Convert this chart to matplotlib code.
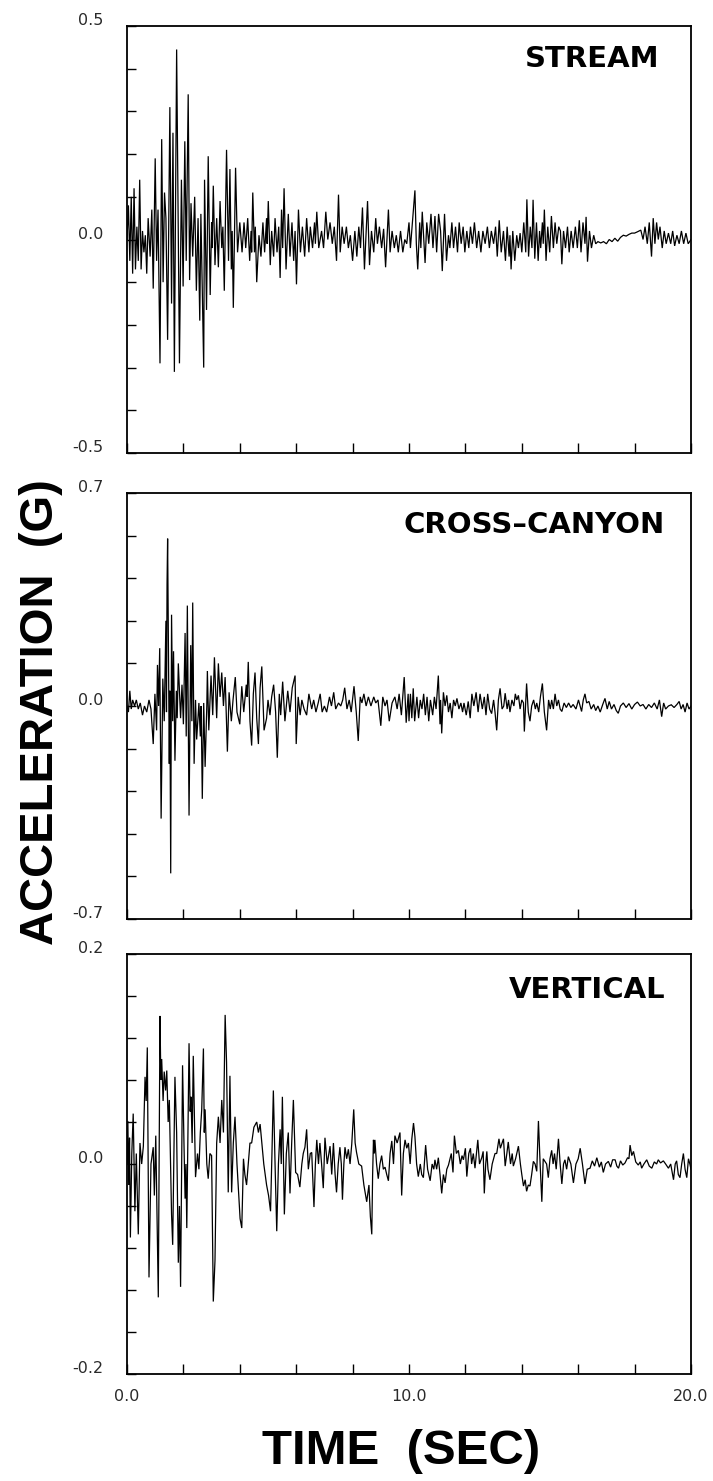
import matplotlib
matplotlib.use("Agg")
import matplotlib.pyplot as plt
import matplotlib.transforms as mtransforms
import numpy as np

# Accelerograph record, three components.
# Each entry: (time in s, acceleration in g) at successive peaks and troughs.
stream = [
    (0.00, 0.00), (0.05, 0.08), (0.10, -0.05), (0.15, 0.10), (0.20, -0.08),
    (0.25, 0.12), (0.30, -0.07), (0.35, 0.03), (0.40, -0.05), (0.45, 0.14),
    (0.50, -0.07), (0.55, 0.02), (0.60, -0.03), (0.65, 0.01), (0.70, -0.08),
    (0.75, 0.05), (0.82, -0.04), (0.88, 0.07), (0.93, -0.115), (1.00, 0.19),
    (1.05, -0.05), (1.10, 0.07), (1.17, -0.29), (1.23, 0.235), (1.28, -0.10),
    (1.33, 0.11), (1.38, 0.05), (1.44, -0.235), (1.52, 0.31), (1.58, -0.15),
    (1.63, 0.25), (1.68, -0.31), (1.76, 0.445), (1.86, -0.29), (1.93, 0.14),
    (1.99, -0.11), (2.05, 0.23), (2.10, -0.05), (2.17, 0.34), (2.22, -0.095),
    (2.27, 0.085), (2.33, -0.04), (2.40, 0.10), (2.46, -0.12), (2.52, 0.05),
    (2.58, -0.19), (2.62, 0.06), (2.72, -0.30), (2.75, 0.14), (2.82, -0.165),
    (2.88, 0.195), (2.95, -0.13), (3.00, 0.04), (3.02, -0.02), (3.06, 0.126),
    (3.12, -0.06), (3.18, 0.05), (3.24, -0.065), (3.30, 0.09), (3.36, -0.02),
    (3.40, 0.03), (3.45, -0.12), (3.53, 0.21), (3.60, -0.05), (3.65, 0.165),
    (3.70, -0.07), (3.73, 0.02), (3.77, -0.16), (3.85, 0.168), (3.92, -0.03),
    (4.00, 0.04), (4.08, -0.03), (4.15, 0.04), (4.21, -0.02), (4.28, 0.05),
    (4.35, -0.05), (4.40, 0.02), (4.42, -0.03), (4.46, 0.11), (4.52, -0.03),
    (4.55, 0.03), (4.60, -0.10), (4.68, 0.01), (4.75, -0.04), (4.82, 0.04),
    (4.88, -0.03), (4.95, 0.05), (4.97, -0.01), (5.01, 0.09), (5.08, -0.06),
    (5.13, 0.02), (5.20, -0.04), (5.25, 0.05), (5.32, -0.03), (5.38, 0.03),
    (5.43, -0.09), (5.48, 0.07), (5.52, -0.02), (5.57, 0.12), (5.64, -0.07),
    (5.72, 0.06), (5.78, -0.04), (5.85, 0.04), (5.91, -0.05), (5.96, 0.02),
    (6.01, -0.105), (6.08, 0.07), (6.15, -0.03), (6.22, 0.03), (6.30, -0.04),
    (6.37, 0.05), (6.45, -0.03), (6.50, 0.03), (6.58, -0.02), (6.65, 0.04),
    (6.68, -0.01), (6.73, 0.065), (6.80, -0.02), (6.90, 0.02), (6.97, -0.02),
    (7.05, 0.065), (7.12, 0.00), (7.20, 0.04), (7.28, -0.01), (7.35, 0.03),
    (7.43, -0.05), (7.50, 0.105), (7.56, -0.03), (7.63, 0.03), (7.70, -0.01),
    (7.78, 0.03), (7.85, -0.02), (7.92, 0.01), (8.00, -0.05), (8.08, 0.02),
    (8.15, -0.04), (8.22, 0.03), (8.28, -0.02), (8.35, 0.075), (8.42, -0.07),
    (8.53, 0.09), (8.60, -0.06), (8.67, 0.02), (8.75, -0.03), (8.82, 0.05),
    (8.88, -0.01), (8.95, 0.03), (9.03, -0.02), (9.10, 0.025), (9.17, -0.065),
    (9.27, 0.07), (9.33, -0.03), (9.40, 0.02), (9.48, -0.02), (9.55, 0.01),
    (9.62, -0.03), (9.70, 0.02), (9.78, -0.03), (9.85, 0.00), (9.92, -0.01),
    (10.00, 0.04), (10.05, -0.02), (10.21, 0.115), (10.26, -0.01), (10.31, -0.07),
    (10.38, 0.04), (10.42, -0.02), (10.47, 0.065), (10.57, -0.055), (10.63, 0.04),
    (10.70, -0.01), (10.78, 0.06), (10.85, -0.02), (10.92, 0.055), (10.98, -0.03),
    (11.05, 0.06), (11.12, 0.02), (11.18, -0.074), (11.26, 0.06), (11.33, -0.05),
    (11.40, 0.01), (11.45, -0.02), (11.52, 0.04), (11.58, -0.02), (11.65, 0.03),
    (11.72, -0.03), (11.78, 0.04), (11.85, -0.01), (11.92, 0.03), (11.98, -0.03),
    (12.05, 0.02), (12.12, -0.02), (12.18, 0.03), (12.25, -0.01), (12.32, 0.04),
    (12.40, -0.02), (12.47, 0.02), (12.55, -0.03), (12.62, 0.02), (12.70, -0.01),
    (12.78, 0.03), (12.85, -0.02), (12.92, 0.02), (13.00, -0.01), (13.07, 0.03),
    (13.13, -0.04), (13.20, 0.045), (13.27, -0.03), (13.35, 0.02), (13.42, -0.05),
    (13.48, 0.03), (13.55, -0.04), (13.58, 0.01), (13.62, -0.07), (13.68, 0.02),
    (13.75, -0.05), (13.82, 0.01), (13.88, -0.02), (13.94, 0.015), (14.00, -0.03),
    (14.07, 0.04), (14.14, -0.03), (14.18, 0.094), (14.24, -0.04), (14.30, 0.03),
    (14.36, -0.02), (14.40, 0.093), (14.46, -0.045), (14.52, 0.04), (14.58, -0.05),
    (14.63, 0.02), (14.67, -0.02), (14.73, 0.04), (14.76, -0.01), (14.80, 0.07),
    (14.86, -0.05), (14.92, 0.03), (14.99, -0.03), (15.05, 0.055), (15.12, -0.02),
    (15.18, 0.04), (15.24, -0.01), (15.31, 0.03), (15.37, 0.02), (15.42, -0.058),
    (15.48, 0.02), (15.55, -0.02), (15.62, 0.03), (15.68, -0.03), (15.75, 0.02),
    (15.82, -0.02), (15.90, 0.03), (15.97, -0.02), (16.04, 0.045), (16.10, -0.03),
    (16.17, 0.04), (16.24, -0.01), (16.28, 0.053), (16.33, -0.052), (16.40, 0.02),
    (16.47, -0.02), (16.55, 0.01), (16.62, -0.01), (16.70, -0.005), (16.80, -0.008),
    (16.90, -0.005), (17.00, -0.01), (17.10, 0.00), (17.20, -0.005), (17.30, 0.003),
    (17.40, -0.004), (17.50, 0.005), (17.60, 0.01), (17.70, 0.008), (17.80, 0.012),
    (17.90, 0.015), (18.00, 0.015), (18.10, 0.018), (18.22, 0.022), (18.30, 0.00),
    (18.37, 0.03), (18.45, -0.01), (18.52, 0.04), (18.60, -0.04), (18.66, 0.05),
    (18.72, -0.01), (18.78, 0.04), (18.84, 0.00), (18.90, 0.03), (18.98, -0.02),
    (19.05, 0.02), (19.12, -0.01), (19.20, 0.015), (19.28, -0.01), (19.35, 0.02),
    (19.42, -0.015), (19.50, 0.01), (19.58, -0.01), (19.66, 0.02), (19.74, -0.01),
    (19.82, 0.015), (19.90, -0.01), (20.00, 0.00),
]

cross_canyon = [
    (0.00, 0.00), (0.05, -0.02), (0.10, 0.05), (0.15, -0.01), (0.20, 0.02),
    (0.27, 0.00), (0.33, 0.02), (0.40, -0.01), (0.47, 0.01), (0.55, -0.03),
    (0.62, 0.00), (0.70, -0.02), (0.78, 0.02), (0.85, -0.01), (0.93, -0.125),
    (0.99, 0.04), (1.05, -0.08), (1.08, 0.135), (1.12, 0.00), (1.16, 0.19),
    (1.21, -0.37), (1.27, 0.09), (1.32, -0.05), (1.38, 0.28), (1.40, -0.02),
    (1.42, 0.40), (1.44, 0.55), (1.50, -0.19), (1.52, 0.05), (1.55, -0.55),
    (1.58, 0.30), (1.62, -0.05), (1.65, 0.18), (1.70, -0.18), (1.75, 0.05),
    (1.78, -0.04), (1.82, 0.14), (1.90, -0.04), (1.95, 0.07), (2.00, -0.06),
    (2.06, 0.24), (2.10, -0.10), (2.14, 0.33), (2.20, -0.36), (2.26, 0.20),
    (2.30, -0.05), (2.33, 0.34), (2.38, -0.19), (2.43, 0.02), (2.47, -0.11),
    (2.55, 0.01), (2.60, -0.10), (2.63, 0.00), (2.67, -0.305), (2.72, 0.01),
    (2.77, -0.20), (2.83, 0.00), (2.85, 0.115), (2.90, -0.08), (2.98, 0.10),
    (3.04, -0.03), (3.10, 0.16), (3.18, -0.04), (3.24, 0.14), (3.30, 0.03),
    (3.36, 0.11), (3.42, 0.00), (3.48, 0.095), (3.56, -0.15), (3.62, 0.045),
    (3.70, -0.05), (3.76, 0.02), (3.84, 0.095), (3.90, -0.02), (4.00, -0.06),
    (4.07, 0.065), (4.14, -0.02), (4.23, 0.07), (4.26, 0.03), (4.30, 0.145),
    (4.36, -0.05), (4.42, -0.13), (4.48, 0.04), (4.54, 0.11), (4.60, -0.04),
    (4.66, -0.125), (4.72, 0.06), (4.78, 0.13), (4.86, -0.08), (4.95, -0.04),
    (5.00, 0.02), (5.07, -0.03), (5.13, 0.03), (5.20, 0.07), (5.27, -0.02),
    (5.33, -0.17), (5.40, 0.04), (5.45, -0.03), (5.52, 0.08), (5.60, -0.05),
    (5.70, 0.05), (5.78, -0.02), (5.86, 0.06), (5.96, 0.10), (6.00, -0.125),
    (6.07, 0.03), (6.14, -0.03), (6.20, 0.02), (6.28, -0.01), (6.37, -0.03),
    (6.45, 0.04), (6.55, -0.01), (6.62, 0.02), (6.70, -0.02), (6.78, 0.01),
    (6.85, 0.04), (6.92, -0.02), (7.00, 0.00), (7.08, -0.02), (7.18, 0.03),
    (7.25, 0.00), (7.33, 0.045), (7.40, -0.01), (7.50, 0.01), (7.58, 0.00),
    (7.65, 0.02), (7.72, 0.06), (7.80, -0.01), (7.88, 0.02), (7.95, -0.02),
    (8.05, 0.065), (8.13, -0.02), (8.20, -0.115), (8.27, 0.03), (8.33, 0.01),
    (8.40, 0.04), (8.48, 0.00), (8.56, 0.03), (8.65, 0.00), (8.75, 0.03),
    (8.82, 0.01), (8.90, 0.02), (9.00, -0.065), (9.07, 0.03), (9.15, 0.00),
    (9.22, 0.02), (9.30, -0.05), (9.40, 0.01), (9.50, 0.03), (9.58, -0.01),
    (9.65, 0.04), (9.73, -0.03), (9.83, 0.095), (9.90, -0.055), (9.97, 0.04),
    (10.00, -0.05), (10.05, 0.04), (10.10, -0.04), (10.15, 0.058), (10.20, -0.05),
    (10.28, 0.03), (10.34, -0.04), (10.40, 0.02), (10.46, -0.01), (10.52, 0.04),
    (10.58, -0.03), (10.64, 0.03), (10.70, -0.05), (10.76, 0.02), (10.84, -0.03),
    (10.90, 0.03), (10.96, -0.01), (11.04, 0.10), (11.10, -0.06), (11.12, 0.02),
    (11.16, -0.09), (11.22, 0.045), (11.28, 0.00), (11.34, 0.035), (11.40, -0.02),
    (11.46, 0.01), (11.52, -0.04), (11.58, 0.02), (11.64, 0.00), (11.70, 0.025),
    (11.77, -0.01), (11.84, 0.01), (11.90, -0.02), (11.95, 0.01), (12.03, -0.03),
    (12.10, 0.015), (12.17, -0.04), (12.23, 0.04), (12.30, 0.00), (12.38, 0.045),
    (12.45, -0.02), (12.52, 0.04), (12.60, -0.01), (12.67, 0.03), (12.73, -0.03),
    (12.79, 0.04), (12.86, -0.01), (12.93, -0.025), (13.00, 0.02), (13.05, -0.02),
    (13.11, -0.08), (13.17, 0.02), (13.23, 0.058), (13.30, -0.01), (13.36, 0.00),
    (13.41, 0.042), (13.48, -0.01), (13.53, 0.02), (13.58, -0.02), (13.65, 0.02),
    (13.72, 0.00), (13.77, 0.04), (13.82, 0.02), (13.88, 0.035), (13.94, -0.01),
    (14.00, 0.02), (14.06, 0.01), (14.09, -0.084), (14.17, 0.074), (14.23, -0.02),
    (14.29, -0.05), (14.35, 0.00), (14.42, 0.02), (14.48, -0.01), (14.53, 0.01),
    (14.60, -0.02), (14.66, 0.03), (14.73, 0.074), (14.80, -0.02), (14.88, -0.08),
    (14.95, 0.02), (15.01, -0.01), (15.06, 0.02), (15.12, -0.01), (15.18, 0.04),
    (15.24, 0.00), (15.30, 0.02), (15.36, -0.01), (15.42, -0.018), (15.50, 0.01),
    (15.58, -0.005), (15.66, 0.01), (15.74, -0.005), (15.82, 0.005), (15.92, -0.01),
    (16.01, 0.02), (16.07, 0.00), (16.12, -0.018), (16.18, 0.02), (16.24, 0.04),
    (16.30, 0.01), (16.38, 0.015), (16.46, -0.01), (16.55, 0.005), (16.62, -0.015),
    (16.70, 0.00), (16.78, -0.02), (16.87, 0.005), (16.95, 0.025), (17.03, -0.01),
    (17.10, 0.015), (17.18, -0.01), (17.27, 0.005), (17.35, -0.015), (17.42, -0.024),
    (17.50, 0.00), (17.60, 0.01), (17.70, -0.005), (17.80, 0.008), (17.90, -0.01),
    (18.00, 0.005), (18.10, 0.013), (18.20, 0.00), (18.30, 0.005), (18.40, -0.01),
    (18.50, 0.005), (18.60, -0.005), (18.70, 0.01), (18.80, -0.01), (18.88, 0.02),
    (18.96, -0.035), (19.03, 0.01), (19.10, -0.01), (19.20, 0.00), (19.30, 0.004),
    (19.40, -0.005), (19.50, 0.005), (19.58, 0.015), (19.65, -0.01), (19.72, 0.005),
    (19.79, -0.02), (19.86, 0.01), (19.93, -0.01), (20.00, 0.00),
]

vertical = [
    (0.00, 0.000), (0.03, 0.041), (0.06, -0.020), (0.09, 0.025), (0.12, -0.070),
    (0.17, 0.010), (0.22, 0.048), (0.28, -0.045), (0.33, 0.010), (0.40, -0.067),
    (0.46, 0.020), (0.52, 0.000), (0.58, 0.017), (0.64, 0.083), (0.68, 0.060),
    (0.72, 0.111), (0.78, -0.108), (0.85, 0.000), (0.93, 0.016), (0.97, -0.030),
    (1.02, 0.027), (1.11, -0.127), (1.17, 0.141), (1.20, 0.080), (1.23, 0.100),
    (1.28, 0.060), (1.32, 0.088), (1.37, 0.070), (1.41, 0.089), (1.46, 0.040),
    (1.50, 0.061), (1.58, -0.048), (1.62, -0.077), (1.66, 0.000), (1.70, 0.083),
    (1.76, 0.030), (1.82, -0.094), (1.86, -0.040), (1.90, -0.117), (1.97, 0.094),
    (2.02, 0.020), (2.06, -0.033), (2.09, 0.000), (2.12, -0.061), (2.20, 0.115),
    (2.24, 0.050), (2.27, 0.064), (2.31, 0.020), (2.35, 0.103), (2.43, -0.0125),
    (2.50, 0.010), (2.55, -0.005), (2.60, 0.030), (2.65, 0.052), (2.71, 0.110),
    (2.74, 0.030), (2.77, 0.052), (2.83, 0.000), (2.88, -0.014), (2.94, 0.010),
    (3.00, 0.008), (3.06, -0.131), (3.12, -0.092), (3.18, 0.020), (3.24, 0.045),
    (3.30, 0.020), (3.36, 0.061), (3.42, 0.030), (3.48, 0.142), (3.53, 0.097),
    (3.59, -0.027), (3.65, 0.084), (3.71, -0.027), (3.77, 0.020), (3.83, 0.045),
    (3.90, 0.000), (4.01, -0.052), (4.07, -0.061), (4.13, 0.005), (4.18, -0.010),
    (4.24, -0.020), (4.30, 0.000), (4.36, 0.020), (4.42, 0.020), (4.50, 0.035),
    (4.60, 0.040), (4.66, 0.030), (4.72, 0.038), (4.78, 0.020), (4.85, 0.000),
    (4.95, -0.020), (5.02, -0.030), (5.09, -0.045), (5.14, 0.010), (5.19, 0.070),
    (5.25, 0.000), (5.31, -0.064), (5.37, 0.000), (5.43, 0.033), (5.47, 0.000),
    (5.51, 0.064), (5.58, -0.048), (5.65, 0.010), (5.72, 0.030), (5.78, -0.028),
    (5.84, 0.020), (5.90, 0.061), (5.98, -0.008), (6.05, -0.010), (6.13, -0.022),
    (6.20, 0.000), (6.25, 0.010), (6.31, 0.016), (6.37, 0.033), (6.43, -0.005),
    (6.50, 0.010), (6.55, 0.011), (6.63, -0.041), (6.68, 0.000), (6.73, 0.023),
    (6.79, 0.000), (6.84, 0.020), (6.90, 0.000), (6.96, -0.023), (7.02, 0.025),
    (7.10, 0.000), (7.20, 0.017), (7.26, -0.010), (7.32, 0.020), (7.38, -0.010),
    (7.43, -0.027), (7.49, 0.000), (7.55, 0.016), (7.60, 0.000), (7.64, -0.034),
    (7.69, 0.000), (7.73, 0.016), (7.79, 0.005), (7.85, 0.014), (7.91, 0.000),
    (7.97, 0.019), (8.04, 0.052), (8.09, 0.020), (8.14, 0.011), (8.22, 0.000),
    (8.32, -0.002), (8.40, -0.020), (8.50, -0.036), (8.58, -0.020), (8.63, -0.050),
    (8.68, -0.067), (8.71, -0.010), (8.74, 0.023), (8.77, 0.010), (8.79, 0.023),
    (8.85, 0.000), (8.91, -0.014), (8.97, 0.000), (9.03, 0.008), (9.09, -0.005),
    (9.15, -0.003), (9.21, -0.010), (9.27, -0.016), (9.33, 0.010), (9.39, 0.022),
    (9.45, 0.000), (9.50, 0.027), (9.58, 0.020), (9.68, 0.030), (9.74, -0.030),
    (9.80, 0.010), (9.86, 0.023), (9.92, 0.015), (9.98, 0.020), (10.04, 0.000),
    (10.10, 0.024), (10.16, 0.039), (10.21, 0.026), (10.27, 0.000), (10.33, -0.012),
    (10.40, 0.000), (10.45, -0.010), (10.51, -0.013), (10.59, 0.018), (10.66, -0.005),
    (10.75, -0.016), (10.82, 0.000), (10.88, -0.005), (10.92, 0.004), (10.98, -0.005),
    (11.04, 0.006), (11.10, -0.010), (11.16, -0.028), (11.22, -0.010), (11.28, -0.018),
    (11.34, -0.005), (11.40, -0.001), (11.50, 0.010), (11.56, -0.008), (11.61, 0.027),
    (11.68, 0.010), (11.75, 0.013), (11.82, 0.000), (11.88, 0.008), (11.93, 0.004),
    (12.00, 0.015), (12.05, -0.012), (12.12, 0.010), (12.18, 0.015), (12.22, 0.000),
    (12.28, 0.010), (12.34, -0.004), (12.44, 0.023), (12.50, 0.000), (12.58, 0.006),
    (12.63, 0.012), (12.67, -0.028), (12.72, 0.000), (12.76, 0.012), (12.80, -0.005),
    (12.87, -0.015), (12.95, 0.000), (13.05, 0.010), (13.11, 0.010), (13.19, 0.024),
    (13.24, 0.015), (13.30, 0.020), (13.35, 0.024), (13.41, -0.002), (13.47, 0.010),
    (13.52, 0.021), (13.60, 0.000), (13.66, 0.010), (13.70, -0.002), (13.78, 0.005),
    (13.88, 0.017), (13.95, 0.000), (14.00, -0.010), (14.06, -0.021), (14.12, -0.015),
    (14.17, -0.026), (14.23, -0.020), (14.29, -0.021), (14.35, -0.010), (14.41, 0.0025),
    (14.47, 0.000), (14.53, -0.007), (14.59, 0.041), (14.65, 0.000), (14.71, -0.036),
    (14.76, 0.005), (14.82, 0.0025), (14.88, 0.000), (14.94, -0.013), (15.00, 0.005),
    (15.06, 0.013), (15.11, 0.000), (15.16, 0.010), (15.22, -0.005), (15.30, 0.024),
    (15.36, 0.000), (15.42, -0.019), (15.48, 0.000), (15.53, 0.004), (15.59, -0.005),
    (15.65, 0.007), (15.74, 0.000), (15.83, -0.018), (15.92, 0.000), (16.00, 0.005),
    (16.07, 0.015), (16.15, 0.000), (16.24, -0.019), (16.32, -0.005), (16.42, -0.004),
    (16.50, 0.003), (16.58, -0.002), (16.66, 0.006), (16.75, -0.003), (16.82, 0.002),
    (16.89, -0.008), (16.97, 0.000), (17.07, 0.0025), (17.15, -0.003), (17.22, 0.004),
    (17.31, 0.004), (17.37, -0.002), (17.43, -0.004), (17.50, 0.003), (17.58, -0.001),
    (17.66, 0.001), (17.75, 0.006), (17.80, 0.005), (17.84, 0.018), (17.90, 0.008),
    (17.96, 0.012), (18.04, 0.002), (18.13, -0.001), (18.20, 0.002), (18.25, -0.004),
    (18.33, 0.000), (18.43, 0.004), (18.52, -0.002), (18.61, -0.004), (18.70, 0.002),
    (18.78, 0.000), (18.84, 0.004), (18.92, 0.001), (19.02, 0.003), (19.10, 0.000),
    (19.20, -0.004), (19.28, 0.000), (19.38, -0.015), (19.44, 0.000), (19.49, 0.003),
    (19.55, -0.010), (19.61, -0.013), (19.67, 0.000), (19.73, 0.010), (19.79, -0.005),
    (19.85, -0.013), (19.91, 0.005), (19.96, 0.000), (20.00, -0.005),
]

components = ["STREAM", "CROSS\u2013CANYON", "VERTICAL"]
y_limits = [0.5, 0.7, 0.2]
y_labels = [["0.5", "0.0", "-0.5"], ["0.7", "0.0", "-0.7"], ["0.2", "0.0", "-0.2"]]
x_tick_labels = ["0.0", "10.0", "20.0"]

W, H = 713, 1481
fig = plt.figure(figsize=(W / 100, H / 100), dpi=100)
fig.patch.set_facecolor("white")

left_px, right_px = 127, 691
panel_px = [(26, 453), (493, 919), (954, 1374)]
# name placement inside each panel (axes fraction: right edge, baseline)
name_pos = [(0.945, 0.904), (0.954, 0.906), (0.954, 0.895)]

axis_font = dict(family="Liberation Sans", weight="bold")
name_font = dict(family="DejaVu Sans", weight="bold", size=21)
num_font = dict(family="DejaVu Sans", size=11.5, color="#2a2a2a")

records = [stream, cross_canyon, vertical]
for i, (rec, name, lim, labs) in enumerate(zip(records, components, y_limits, y_labels)):
    top, bot = panel_px[i]
    ax = fig.add_axes([left_px / W, (H - bot) / H, (right_px - left_px) / W, (bot - top) / H])
    data = np.array(rec)
    ax.plot(data[:, 0], data[:, 1], color="black", lw=0.9, solid_joinstyle="miter")
    ax.set_xlim(0, 20)
    ax.set_ylim(-lim, lim)

    for s in ax.spines.values():
        s.set_linewidth(1.3)
        s.set_color("black")

    yt = np.linspace(-lim, lim, 11)
    ax.set_yticks(yt)
    ylab = [""] * 11
    ylab[10], ylab[5], ylab[0] = labs[0], labs[1], labs[2]
    ax.set_yticklabels(ylab, **num_font)
    ax.tick_params(axis="y", direction="in", length=6.5, width=1.0, pad=17,
                   left=True, right=False)
    lift = mtransforms.ScaledTranslation(0, 5 / 72, fig.dpi_scale_trans)
    for lab in ax.get_yticklabels():
        lab.set_horizontalalignment("right")
        lab.set_transform(lab.get_transform() + lift)

    ax.set_xticks(np.arange(0, 21, 2))
    if i == 2:
        xl = [""] * 11
        xl[0], xl[5], xl[10] = x_tick_labels
        ax.set_xticklabels(xl, **num_font)
    else:
        ax.set_xticklabels([""] * 11)
    ax.tick_params(axis="x", direction="in", length=7, width=1.0, pad=11,
                   bottom=True, top=False)

    nx, ny = name_pos[i]
    ax.text(nx, ny, name, transform=ax.transAxes, ha="right", va="baseline",
            **name_font)

fig.text(41 / W, 1 - 712 / H, "ACCELERATION  (G)", rotation=90, ha="center",
         va="center", fontsize=34, **axis_font)
fig.text(401 / W, 1 - 1451 / H, "TIME  (SEC)", ha="center", va="center",
         fontsize=35.5, **axis_font)

fig.savefig("out.png", dpi=100, facecolor="white")
